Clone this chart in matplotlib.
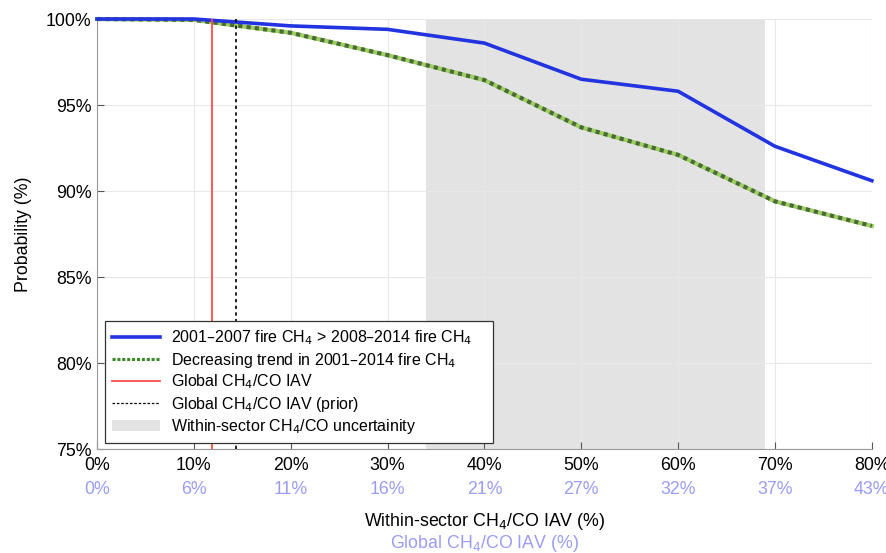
import matplotlib.pyplot as plt
from matplotlib.patches import Patch
from matplotlib.lines import Line2D

plt.rcParams["font.family"] = ["Liberation Sans", "DejaVu Sans"]

# within-sector IAV (%) and the matching global IAV tick labels
within_iav = [0, 10, 20, 30, 40, 50, 60, 70, 80]
global_iav_labels = ["0%", "6%", "11%", "16%", "21%", "27%", "32%", "37%", "43%"]

# probability (%) for the two tests
prob_fire_drop = [100.0, 100.0, 99.6, 99.4, 98.6, 96.5, 95.8, 92.6, 90.6]
prob_trend = [100.0, 99.95, 99.2, 97.9, 96.45, 93.7, 92.1, 89.4, 87.97]

global_iav = 11.9
global_iav_prior = 14.3
uncert_lo, uncert_hi = 34.0, 69.0

BLUE = "#2233e0"
LIGHT_BLUE = "#9a9cf5"

fig = plt.figure(figsize=(8.86, 5.53), dpi=100)
ax = fig.add_axes([0.1095, 0.188, 0.8745, 0.7776])

ax.axvspan(uncert_lo, uncert_hi, color="#e3e3e3", lw=0, zorder=0)
ax.grid(True, color="#e8e8e8", lw=0.8, zorder=0.5)
ax.set_axisbelow(True)

ax.plot(within_iav, prob_fire_drop, color=BLUE, lw=2.6, zorder=4, clip_on=False)
ax.plot(within_iav, prob_trend, color="#9ccf5e", lw=3.0, zorder=3, clip_on=False)
ax.plot(within_iav, prob_trend, color="#4a6a3a", lw=3.0, ls=(0, (1, 1)),
        zorder=3.5, clip_on=False)

ax.axvline(global_iav, color="#ff4a4a", lw=1.3, zorder=5)
ax.axvline(global_iav_prior, color="black", lw=1.2, ls=(0, (2, 2)), zorder=5)

ax.set_xlim(0, 80)
ax.set_ylim(75, 100)
ax.set_xticks(within_iav)
ax.set_xticklabels([f"{v}%" for v in within_iav])
ax.set_yticks(range(75, 101, 5))
ax.set_yticklabels([f"{v}%" for v in range(75, 101, 5)])
ax.tick_params(direction="in", length=5, color="#555555", labelsize=12.8, pad=6)
ax.tick_params(axis="y", pad=4)

for side in ("top", "right"):
    ax.spines[side].set_visible(False)
for side in ("left", "bottom"):
    ax.spines[side].set_color("#999999")

# second row of tick labels: global IAV
for x, lab in zip(within_iav, global_iav_labels):
    ax.annotate(lab, xy=(x, 0), xycoords=ax.get_xaxis_transform(),
                xytext=(0, -23), textcoords="offset points",
                ha="center", va="top", color=LIGHT_BLUE, fontsize=12.8)

ax.set_ylabel("Probability (%)", fontsize=12.8, labelpad=10)
fig.text(0.5465, 0.057, "Within-sector CH$_4$/CO IAV (%)", ha="center",
         va="center", fontsize=12.8)
fig.text(0.5465, 0.018, "Global CH$_4$/CO IAV (%)", ha="center",
         va="center", fontsize=12.8, color=LIGHT_BLUE)

h_fire = Line2D([], [], color=BLUE, lw=2.6)
h_trend = Line2D([], [], color="#3a8a2a", lw=2.2, ls=(0, (1, 0.6)))
h_iav = Line2D([], [], color="#ff4a4a", lw=1.3)
h_prior = Line2D([], [], color="black", lw=0.9, ls=(0, (2, 1.5)))
h_unc = Patch(facecolor="#e3e3e3", edgecolor="none")

leg = ax.legend(
    [h_fire, h_trend, h_iav, h_prior, h_unc],
    ["2001–2007 fire CH$_4$ > 2008–2014 fire CH$_4$",
     "Decreasing trend in 2001–2014 fire CH$_4$",
     "Global CH$_4$/CO IAV",
     "Global CH$_4$/CO IAV (prior)",
     "Within-sector CH$_4$/CO uncertainity"],
    loc="lower left", bbox_to_anchor=(0.0103, 0.014, 0.5006, 0.2),
    mode="expand", borderaxespad=0, fontsize=11.5,
    fancybox=False, framealpha=1, edgecolor="#333333",
    handlelength=3.0, borderpad=0.45, labelspacing=0.2, handletextpad=0.7,
)
leg.get_frame().set_linewidth(0.9)
leg.set_zorder(10)

fig.savefig("out.png", dpi=100)
